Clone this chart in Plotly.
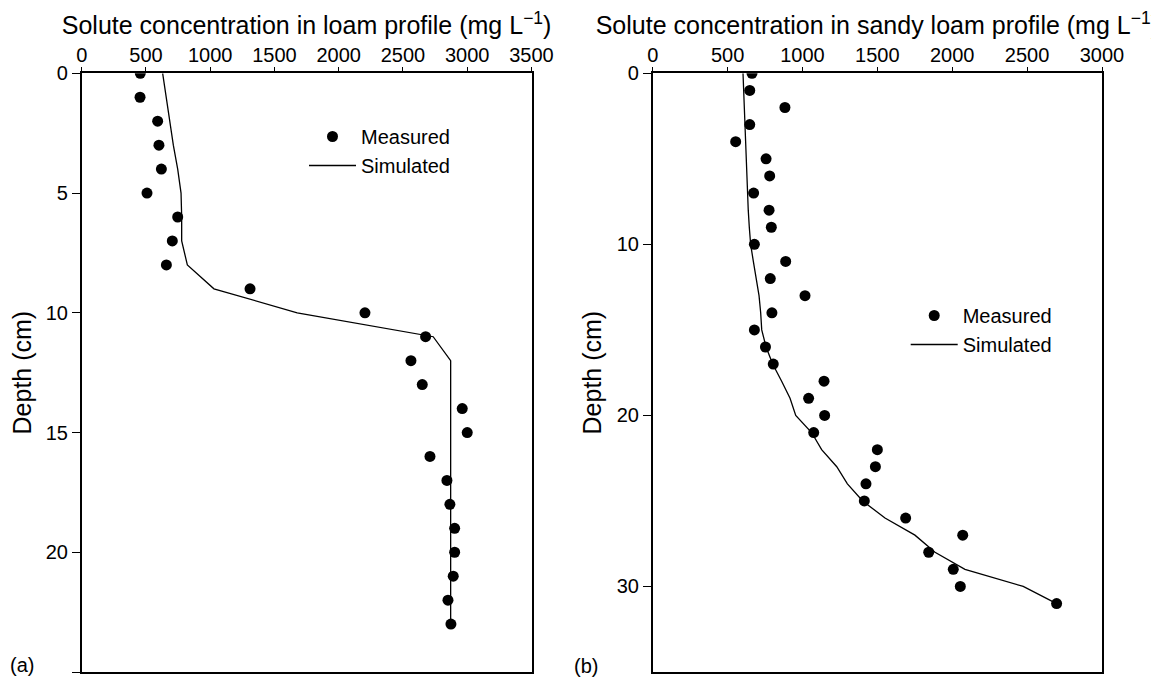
import plotly.graph_objects as go

# ---- Data: loam profile (a) ----
loam_meas_depth = list(range(0, 24))
loam_meas_conc = [456, 454, 591, 601, 620, 508, 747, 705, 659, 1310, 2204, 2676,
                  2562, 2650, 2961, 3000, 2710, 2842, 2865, 2902, 2902, 2891, 2850, 2873]
loam_sim_depth = list(range(0, 24))
loam_sim_conc = [630, 656, 682, 713, 747, 773, 778, 778, 822, 1029, 1677, 2735,
                 2871, 2871, 2871, 2871, 2871, 2871, 2871, 2871, 2871, 2871, 2871, 2871]

# ---- Data: sandy loam profile (b) ----
sandy_meas_depth = list(range(0, 32))
sandy_meas_conc = [663, 648, 883, 648, 554, 757, 781, 674, 777, 792, 679, 888,
                   785, 1017, 796, 679, 753, 805, 1144, 1041, 1148, 1075, 1500, 1487,
                   1424, 1413, 1689, 2070, 1843, 2007, 2054, 2697]
sandy_sim_depth = list(range(0, 32))
sandy_sim_conc = [603, 607, 612, 614, 618, 623, 627, 632, 638, 645, 654, 672,
                  690, 710, 721, 728, 757, 801, 861, 917, 955, 1061, 1128, 1229,
                  1300, 1402, 1551, 1751, 1885, 2085, 2474, 2697]

loam_xticks = [0, 500, 1000, 1500, 2000, 2500, 3000, 3500]
sandy_xticks = [0, 500, 1000, 1500, 2000, 2500, 3000]
loam_yticks = [0, 5, 10, 15, 20, 25]
sandy_yticks = [0, 10, 20, 30]

FONT = "Liberation Sans, Arial, sans-serif"
TICK_FS = 20
TITLE_FS = 25
LEG_FS = 20
OFF = 8  # default page body margin
W, H = 1159 - OFF, 682 - OFF

fig = go.Figure()

fig.add_trace(go.Scatter(x=loam_meas_conc, y=loam_meas_depth, mode="markers",
                         marker=dict(color="black", size=11), name="Measured",
                         xaxis="x", yaxis="y", legend="legend"))
fig.add_trace(go.Scatter(x=loam_sim_conc, y=loam_sim_depth, mode="lines",
                         line=dict(color="black", width=1.3), name="Simulated",
                         xaxis="x", yaxis="y", legend="legend"))
fig.add_trace(go.Scatter(x=sandy_meas_conc, y=sandy_meas_depth, mode="markers",
                         marker=dict(color="black", size=11), name="Measured",
                         xaxis="x2", yaxis="y2", legend="legend2"))
fig.add_trace(go.Scatter(x=sandy_sim_conc, y=sandy_sim_depth, mode="lines",
                         line=dict(color="black", width=1.3), name="Simulated",
                         xaxis="x2", yaxis="y2", legend="legend2"))

def px_x(p):
    return (p - OFF) / W

def px_y(p):
    return 1 - (p - OFF) / H

axis_common = dict(showgrid=False, zeroline=False, showline=True, linecolor="black",
                   linewidth=1.5, mirror=True, ticks="outside",
                   tickwidth=1.2, tickcolor="black", automargin=False,
                   tickfont=dict(family=FONT, size=TICK_FS, color="black"))

fig.update_layout(
    width=W, height=H,
    margin=dict(l=0, r=0, t=0, b=0, autoexpand=False),
    paper_bgcolor="white", plot_bgcolor="white",
    font=dict(family=FONT, size=TICK_FS, color="black"),
    xaxis=dict(axis_common, domain=[px_x(81.7), px_x(531.5)], range=[0, 3500],
               side="top", tickvals=loam_xticks, anchor="y", ticklen=5,
               ticklabelstandoff=-3,
               title=dict(text="Solute concentration in loam profile (mg L<sup>−1</sup>)",
                          font=dict(family=FONT, size=TITLE_FS), standoff=2)),
    yaxis=dict(axis_common, domain=[px_y(672), px_y(73.3)], range=[25, 0],
               tickvals=loam_yticks, anchor="x", ticklen=8,
               title=dict(text="Depth (cm)", font=dict(family=FONT, size=TITLE_FS), standoff=8)),
    xaxis2=dict(axis_common, domain=[px_x(652.7), px_x(1102)], range=[0, 3000],
                side="top", tickvals=sandy_xticks, anchor="y2", ticklen=5,
                ticklabelstandoff=-3,
                title=dict(text="Solute concentration in sandy loam profile (mg L<sup>−1</sup>)",
                           font=dict(family=FONT, size=TITLE_FS), standoff=2)),
    yaxis2=dict(axis_common, domain=[px_y(672), px_y(73.3)], range=[35, 0],
                tickvals=sandy_yticks, anchor="x2", ticklen=8,
                title=dict(text="Depth (cm)", font=dict(family=FONT, size=TITLE_FS), standoff=8)),
    legend=dict(x=px_x(304), y=px_y(151), xanchor="left", yanchor="middle",
                bgcolor="rgba(0,0,0,0)", itemwidth=47, traceorder="normal",
                font=dict(family=FONT, size=LEG_FS)),
    legend2=dict(x=px_x(905.7), y=px_y(330), xanchor="left", yanchor="middle",
                 bgcolor="rgba(0,0,0,0)", itemwidth=47, traceorder="normal",
                 font=dict(family=FONT, size=LEG_FS)),
    annotations=[
        dict(text="(a)", x=px_x(22), y=px_y(665), xref="paper", yref="paper",
             xanchor="center", yanchor="middle",
             showarrow=False, font=dict(family=FONT, size=TICK_FS)),
        dict(text="(b)", x=px_x(586), y=px_y(666), xref="paper", yref="paper",
             xanchor="center", yanchor="middle",
             showarrow=False, font=dict(family=FONT, size=TICK_FS)),
    ],
)

fig.write_html("out.html")
